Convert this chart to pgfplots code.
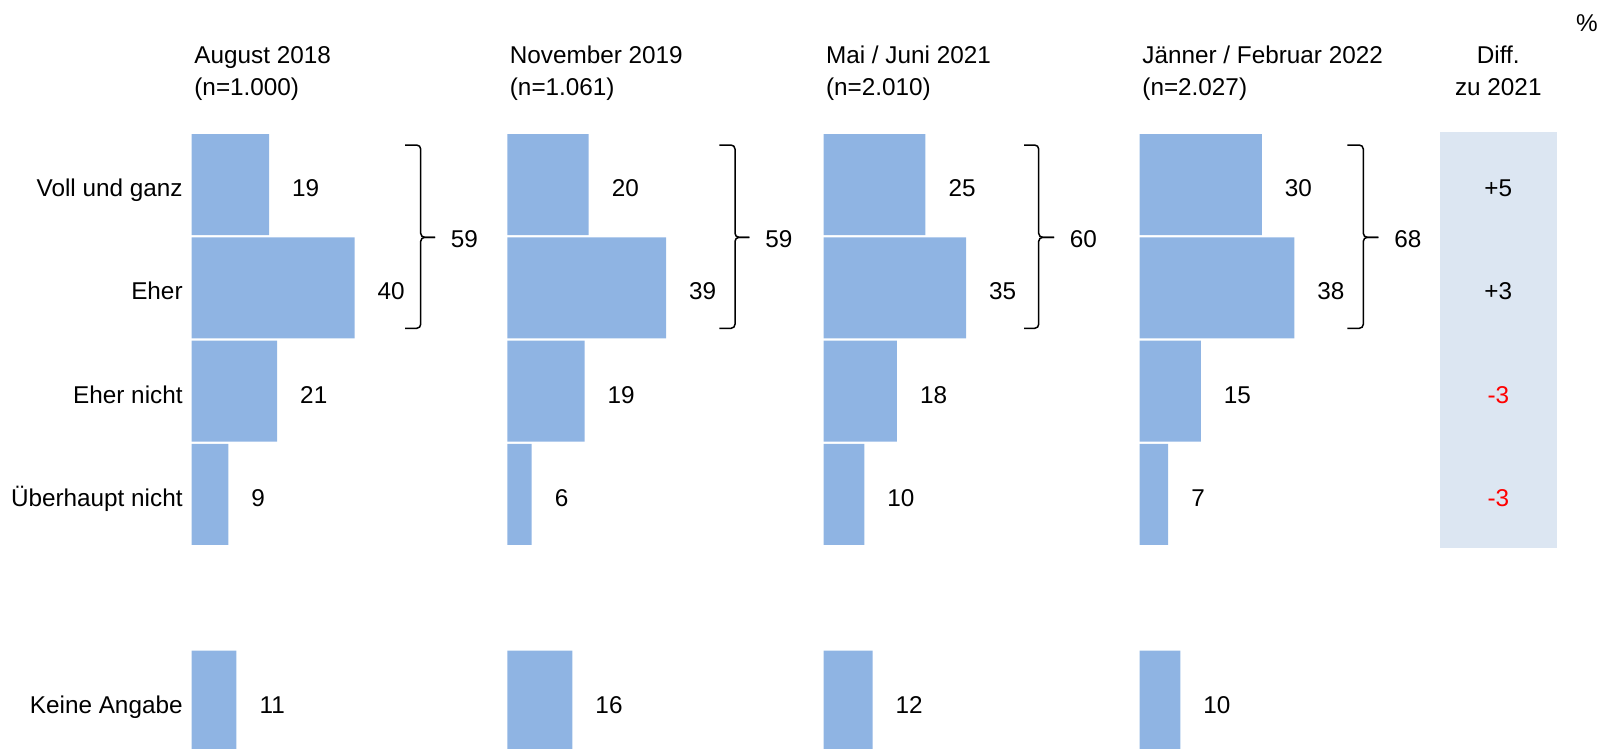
\documentclass[border=0pt]{standalone}
\usepackage{fontspec}
\setmainfont{Liberation Sans}
\usepackage{pgfplots}
\pgfplotsset{compat=1.18}
\definecolor{barblue}{RGB}{143,180,227}
\definecolor{diffbg}{RGB}{220,230,242}
\definecolor{negred}{RGB}{255,0,0}
\newcommand\f{\fontsize{12.15pt}{16pt}\selectfont}
\pgfplotsset{
  /pgf/number format/assume math mode=true,
  panel/.style={
    xbar, bar shift=0pt, bar width=50.5pt,
    x=2.035pt, y=51.65pt, y dir=reverse,
    xmin=0, xmax=60, ymin=-0.5, ymax=5.455,
    hide axis, anchor=north west, clip mode=individual,
    nodes near coords,
    every node near coord/.append style={anchor=base west, xshift=8pt, yshift=-6pt, text=black, font=\f},
  },
}
\begin{document}
\begin{tikzpicture}[font=\f]
\path (0,0) rectangle (801pt,-374pt);
\begin{axis}[at={(0,0)}, anchor=north west, x=0.5pt, y=0.5pt, y dir=reverse,
  xmin=0, xmax=1602, ymin=0, ymax=748, hide axis, clip=false]
\fill[diffbg] (axis cs:1440,132.3) rectangle (axis cs:1556.7,547.7);
% headers
\node[anchor=base west, inner sep=0pt] at (axis cs:194,63.5) {August 2018};
\node[anchor=base west, inner sep=0pt] at (axis cs:194,95.7) {(n=1.000)};
\node[anchor=base west, inner sep=0pt] at (axis cs:509.5,63.5) {November 2019};
\node[anchor=base west, inner sep=0pt] at (axis cs:509.5,95.7) {(n=1.061)};
\node[anchor=base west, inner sep=0pt] at (axis cs:825.7,63.5) {Mai / Juni 2021};
\node[anchor=base west, inner sep=0pt] at (axis cs:825.7,95.7) {(n=2.010)};
\node[anchor=base west, inner sep=0pt] at (axis cs:1142,63.5) {Jänner / Februar 2022};
\node[anchor=base west, inner sep=0pt] at (axis cs:1142,95.7) {(n=2.027)};
\node[anchor=base, inner sep=0pt] at (axis cs:1498.3,63.5) {Diff.};
\node[anchor=base, inner sep=0pt] at (axis cs:1498.3,95.7) {zu 2021};
\node[anchor=base west, inner sep=0pt] at (axis cs:1575.8,31.5) {\%};
% row labels
\node[anchor=base east, inner sep=0pt] at (axis cs:183,196.5) {Voll und ganz};
\node[anchor=base east, inner sep=0pt] at (axis cs:183,299.8) {Eher};
\node[anchor=base east, inner sep=0pt] at (axis cs:183,403.1) {Eher nicht};
\node[anchor=base east, inner sep=0pt] at (axis cs:183,506.4) {Überhaupt nicht};
\node[anchor=base east, inner sep=0pt] at (axis cs:183,713) {Keine Angabe};
% diff values
\node[anchor=base, inner sep=0pt] at (axis cs:1498.3,196.5) {+5};
\node[anchor=base, inner sep=0pt] at (axis cs:1498.3,299.8) {+3};
\node[anchor=base, inner sep=0pt, text=negred] at (axis cs:1498.3,403.1) {-3};
\node[anchor=base, inner sep=0pt, text=negred] at (axis cs:1498.3,506.4) {-3};
% braces
\draw[line width=0.75pt, rounded corners=2pt] (axis cs:405,145) -- (axis cs:420.7,145) -- (axis cs:420.7,237.3) -- (axis cs:435.2,237.3);
\draw[line width=0.75pt, rounded corners=2pt] (axis cs:405,328.3) -- (axis cs:420.7,328.3) -- (axis cs:420.7,237.3) -- (axis cs:435.2,237.3);
\node[anchor=base west, inner sep=0pt] at (axis cs:450.5,247.5) {59};
\draw[line width=0.75pt, rounded corners=2pt] (axis cs:719.3,145) -- (axis cs:735,145) -- (axis cs:735,237.3) -- (axis cs:749.3,237.3);
\draw[line width=0.75pt, rounded corners=2pt] (axis cs:719.3,328.3) -- (axis cs:735,328.3) -- (axis cs:735,237.3) -- (axis cs:749.3,237.3);
\node[anchor=base west, inner sep=0pt] at (axis cs:765,247.5) {59};
\draw[line width=0.75pt, rounded corners=2pt] (axis cs:1024,145) -- (axis cs:1038.7,145) -- (axis cs:1038.7,237.3) -- (axis cs:1054,237.3);
\draw[line width=0.75pt, rounded corners=2pt] (axis cs:1024,328.3) -- (axis cs:1038.7,328.3) -- (axis cs:1038.7,237.3) -- (axis cs:1054,237.3);
\node[anchor=base west, inner sep=0pt] at (axis cs:1069.5,247.5) {60};
\draw[line width=0.75pt, rounded corners=2pt] (axis cs:1347.3,145) -- (axis cs:1363.3,145) -- (axis cs:1363.3,237.3) -- (axis cs:1378.3,237.3);
\draw[line width=0.75pt, rounded corners=2pt] (axis cs:1347.3,328.3) -- (axis cs:1363.3,328.3) -- (axis cs:1363.3,237.3) -- (axis cs:1378.3,237.3);
\node[anchor=base west, inner sep=0pt] at (axis cs:1394,247.5) {68};
\end{axis}
% panels
\begin{axis}[panel, at={(95.85pt,-66.43pt)}]
\addplot[fill=barblue, draw=none] coordinates {(19,0) (40,1) (21,2) (9,3) (11,5)};
\end{axis}
\begin{axis}[panel, at={(253.65pt,-66.43pt)}]
\addplot[fill=barblue, draw=none] coordinates {(20,0) (39,1) (19,2) (6,3) (16,5)};
\end{axis}
\begin{axis}[panel, at={(411.85pt,-66.43pt)}]
\addplot[fill=barblue, draw=none] coordinates {(25,0) (35,1) (18,2) (10,3) (12,5)};
\end{axis}
\begin{axis}[panel, at={(569.85pt,-66.43pt)}]
\addplot[fill=barblue, draw=none] coordinates {(30,0) (38,1) (15,2) (7,3) (10,5)};
\end{axis}
\end{tikzpicture}
\end{document}
